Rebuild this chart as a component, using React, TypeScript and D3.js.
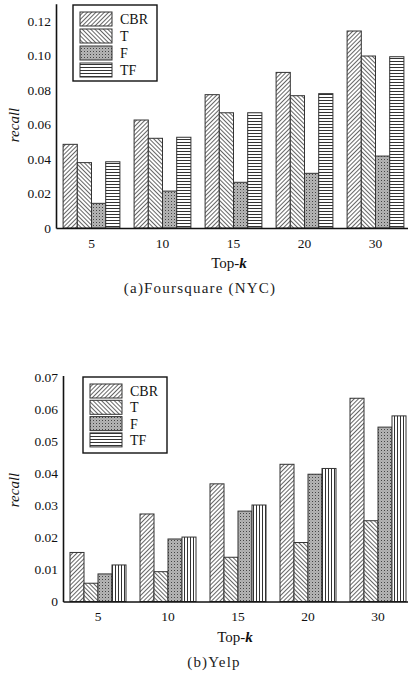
import React, { useRef, useEffect } from "react";
import * as d3 from "d3";

// values
const categories = ["5", "10", "15", "20", "30"];
const seriesNames = ["CBR", "T", "F", "TF"];

const nycCBR = [0.0485, 0.0626, 0.0773, 0.0902, 0.1142];
const nycT = [0.0379, 0.052, 0.0668, 0.0767, 0.0997];
const nycF = [0.0143, 0.0214, 0.0265, 0.0317, 0.0417];
const nycTF = [0.0384, 0.0526, 0.0668, 0.0779, 0.0993];
const nycTicks = [0, 0.02, 0.04, 0.06, 0.08, 0.1, 0.12];

const yelpCBR = [0.0153, 0.0273, 0.0367, 0.0428, 0.0634];
const yelpT = [0.0057, 0.0093, 0.0138, 0.0184, 0.0252];
const yelpF = [0.0086, 0.0195, 0.0282, 0.0397, 0.0544];
const yelpTF = [0.0114, 0.0201, 0.0301, 0.0415, 0.0579];
const yelpTicks = [0, 0.01, 0.02, 0.03, 0.04, 0.05, 0.06, 0.07];

const FONT = "'Liberation Serif', 'DejaVu Serif', serif";

const Panel = (props) => {
  const gRef = useRef();

  useEffect(() => {
    const g = d3.select(gRef.current);
    g.selectAll("*").remove();

    const { left, right, yZero, yTop, yMax, ticks, series, legend, tfFill } = props;

    const x0 = d3.scaleBand().domain(categories).range([left, right]).paddingInner(0.2).paddingOuter(0.1);
    const x1 = d3.scaleBand().domain(seriesNames).range([0, x0.bandwidth()]);
    const y = d3.scaleLinear().domain([0, yMax]).range([yZero, yTop]);

    const fills = { CBR: "url(#p-cbr)", T: "url(#p-t)", F: "url(#p-f)", TF: tfFill };

    // bars
    seriesNames.forEach((name, j) => {
      g.append("g")
        .selectAll("rect")
        .data(series[j])
        .enter().append("rect")
        .attr("x", (d, i) => x0(categories[i]) + x1(name))
        .attr("y", d => y(d))
        .attr("width", x1.bandwidth())
        .attr("height", d => yZero - y(d))
        .attr("fill", fills[name])
        .attr("stroke", "#333")
        .attr("stroke-width", 1);
    });

    // axes
    const xAxis = d3.axisBottom(x0).tickSize(0).tickSizeOuter(0).tickPadding(10);
    const xg = g.append("g").attr("transform", `translate(0,${yZero})`).call(xAxis);
    const yAxis = d3.axisLeft(y).tickValues(ticks).tickSize(0).tickSizeOuter(0).tickPadding(5)
      .tickFormat(d => d === 0 ? "0" : d3.format(".2f")(d));
    const yg = g.append("g").attr("transform", `translate(${left},0)`).call(yAxis);

    [xg, yg].forEach(a => {
      a.attr("font-family", FONT);
      a.select(".domain").attr("stroke", "#111").attr("stroke-width", 1.6);
      a.selectAll("text").attr("font-family", FONT).attr("font-size", 13.5).attr("fill", "#111");
    });

    // legend
    const lg = g.append("g");
    lg.append("rect")
      .attr("x", legend.x).attr("y", legend.y)
      .attr("width", legend.w).attr("height", legend.h)
      .attr("fill", "#fff").attr("stroke", "#111").attr("stroke-width", 1.4);
    const legendFills = { CBR: "url(#p-cbr)", T: "url(#p-t)", F: "url(#p-f)", TF: "url(#p-tf-h)" };
    seriesNames.forEach((name, j) => {
      const ry = legend.y + 7 + j * legend.step;
      lg.append("rect")
        .attr("x", legend.x + 7).attr("y", ry)
        .attr("width", 32).attr("height", 14)
        .attr("fill", legendFills[name]).attr("stroke", "#333");
      lg.append("text")
        .attr("x", legend.x + 47).attr("y", ry + 7).attr("dy", "0.35em")
        .attr("font-family", FONT).attr("font-size", 14).attr("fill", "#111")
        .text(name);
    });
  }, []);

  const { yZero, labelY, topkX, captionX, caption } = props;
  return (
    <g>
      <g ref={gRef} />
      <text transform={`translate(19,${labelY}) rotate(-90)`} textAnchor="middle"
        fontFamily={FONT} fontSize={15} fontStyle="italic" fill="#111">recall</text>
      <text x={topkX} y={yZero + 40} textAnchor="middle" fontFamily={FONT} fontSize={15} fill="#111">
        Top-<tspan fontStyle="italic" fontWeight="bold">k</tspan>
      </text>
      <text x={captionX} y={yZero + 65} textAnchor="middle" fontFamily={FONT} fontSize={15}
        letterSpacing={1.2} fill="#222">{caption}</text>
    </g>
  );
};

export default function App() {
  return (
    <svg width={408} height={686} style={{ position: "absolute", left: 0, top: 0, background: "#fff" }}>
      <defs>
        <pattern id="p-cbr" width="3" height="3" patternUnits="userSpaceOnUse" patternTransform="rotate(45)">
          <rect width="3" height="3" fill="#fff" />
          <line x1="1.5" y1="0" x2="1.5" y2="3" stroke="#555" strokeWidth="0.9" />
        </pattern>
        <pattern id="p-t" width="3" height="3" patternUnits="userSpaceOnUse" patternTransform="rotate(-45)">
          <rect width="3" height="3" fill="#fff" />
          <line x1="1.5" y1="0" x2="1.5" y2="3" stroke="#555" strokeWidth="0.9" />
        </pattern>
        <pattern id="p-f" width="3" height="3" patternUnits="userSpaceOnUse">
          <rect width="3" height="3" fill="#d0d0d0" />
          <rect x="0" y="0" width="1" height="1" fill="#444" />
          <rect x="1.5" y="1.5" width="1" height="1" fill="#444" />
          <rect x="1.5" y="0" width="1" height="1" fill="#999" />
          <rect x="0" y="1.5" width="1" height="1" fill="#999" />
        </pattern>
        <pattern id="p-tf-h" width="4" height="3" patternUnits="userSpaceOnUse">
          <rect width="4" height="3" fill="#fff" />
          <rect x="0" y="1" width="4" height="1" fill="#333" />
        </pattern>
        <pattern id="p-tf-v" width="3" height="4" patternUnits="userSpaceOnUse">
          <rect width="3" height="4" fill="#fff" />
          <rect x="1" y="0" width="1" height="4" fill="#333" />
        </pattern>
      </defs>
      <Panel left={56} right={56 + 5 * 71} yZero={228} yTop={3.75} yMax={0.13} ticks={nycTicks}
        series={[nycCBR, nycT, nycF, nycTF]} tfFill="url(#p-tf-h)"
        legend={{ x: 73, y: 5, w: 84, h: 76, step: 17 }}
        labelY={125} topkX={229} captionX={200} caption="(a)Foursquare (NYC)" />
      <Panel left={63} right={63 + 5 * 70} yZero={601.5} yTop={375.5} yMax={0.0705} ticks={yelpTicks}
        series={[yelpCBR, yelpT, yelpF, yelpTF]} tfFill="url(#p-tf-v)"
        legend={{ x: 83, y: 377, w: 84, h: 76, step: 16.3 }}
        labelY={490} topkX={235} captionX={214} caption="(b)Yelp" />
    </svg>
  );
}
